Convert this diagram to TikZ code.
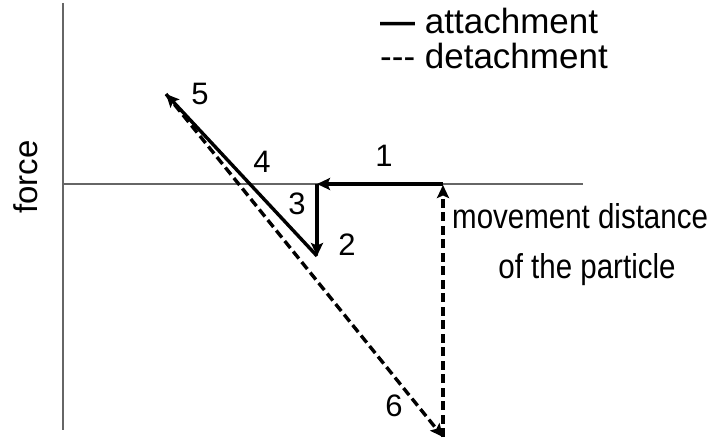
\documentclass[tikz,border=0pt]{standalone}
\usepackage{fontspec}
\setmainfont{Liberation Sans}
\usetikzlibrary{arrows.meta}
\begin{document}
\begin{tikzpicture}[x=1pt,y=-1pt,
  axisline/.style={draw=black!60,line width=1.2pt},
  attach/.style={line width=3.4pt,-{Stealth[length=13pt,width=12pt,inset=2.5pt]}},
  detach/.style={line width=3.4pt,dash pattern=on 9pt off 4.5pt,-{Stealth[length=13pt,width=12pt,inset=2.5pt]}},
  numlab/.style={font=\fontsize{31}{36}\selectfont,inner sep=0pt},
  legtext/.style={font=\fontsize{35}{40}\selectfont,inner sep=0pt,anchor=base west},
  movtext/.style={font=\fontsize{34.5}{40}\selectfont,inner sep=0pt}]
\useasboundingbox (0,0) rectangle (713,444);
% axes
\coordinate (ytop) at (63,3);
\coordinate (ybot) at (63,430);
\coordinate (xl) at (63,184);
\coordinate (xr) at (583,184);
\draw[axisline] (ytop) -- (ybot);
\draw[axisline] (xl) -- (xr);
% path points
\coordinate (p0) at (443,184);
\coordinate (p1) at (317,184);
\coordinate (p2) at (317,256);
\coordinate (p3) at (166,94);
\coordinate (p4) at (443,437);
\coordinate (p5) at (443,185);
% detachment
\draw[detach] (p3) -- (p4);
\draw[detach] (p4) -- (p5);
% attachment
\draw[attach] (p0) -- (p1);
\draw[attach] (p1) -- (p2);
\draw[attach] (p2) -- (p3);
% numbers
\node[numlab] (n1) at (384,156) {1};
\node[numlab] (n2) at (347,245) {2};
\node[numlab] (n3) at (297,204) {3};
\node[numlab] (n4) at (262,162) {4};
\node[numlab] (n5) at (200,94) {5};
\node[numlab] (n6) at (394,406) {6};
% legend
\node[legtext] (l1) at (380,34) {{\bfseries —} attachment};
\node[legtext] (l2) at (380,69) {-{}-{}- detachment};
% labels
\node[movtext,anchor=base west] (m1) at (452,228) {\scalebox{0.855}[1]{movement distance}};
\node[movtext,anchor=base] (m2) at (587,278) {\scalebox{0.855}[1]{of the particle}};
\node[font=\fontsize{33}{38}\selectfont,inner sep=0pt,rotate=90] (f) at (26,177) {force};
\end{tikzpicture}
\end{document}
